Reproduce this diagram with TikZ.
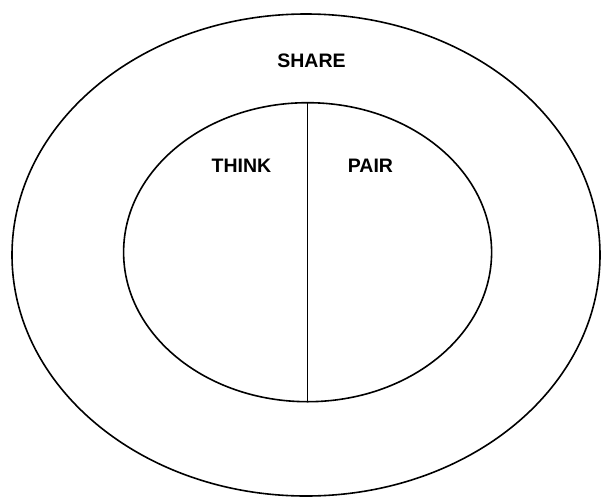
\documentclass[tikz,border=0pt]{standalone}
\usepackage{fontspec}
\setmainfont{Liberation Sans}
\usepackage{tikz}

\begin{document}
\begin{tikzpicture}[x=1pt,y=-1pt,
  label/.style={font=\fontsize{19.5}{22}\selectfont\bfseries,inner sep=0pt}]
\useasboundingbox (0,0) rectangle (602,498);
\draw[line width=1.6pt] (306,255) ellipse (294 and 241);
\draw[line width=1.6pt] (307.6,252.2) ellipse (184 and 149.5);
\coordinate (top) at (307.4,102.7);
\coordinate (bot) at (307.4,401.7);
\draw[line width=1.6pt] (top) -- (bot);
\node[label] (share) at (311.5,60.5) {SHARE};
\node[label] (think) at (241.5,165.5) {THINK};
\node[label] (pair) at (370.5,165.5) {PAIR};
\end{tikzpicture}
\end{document}
